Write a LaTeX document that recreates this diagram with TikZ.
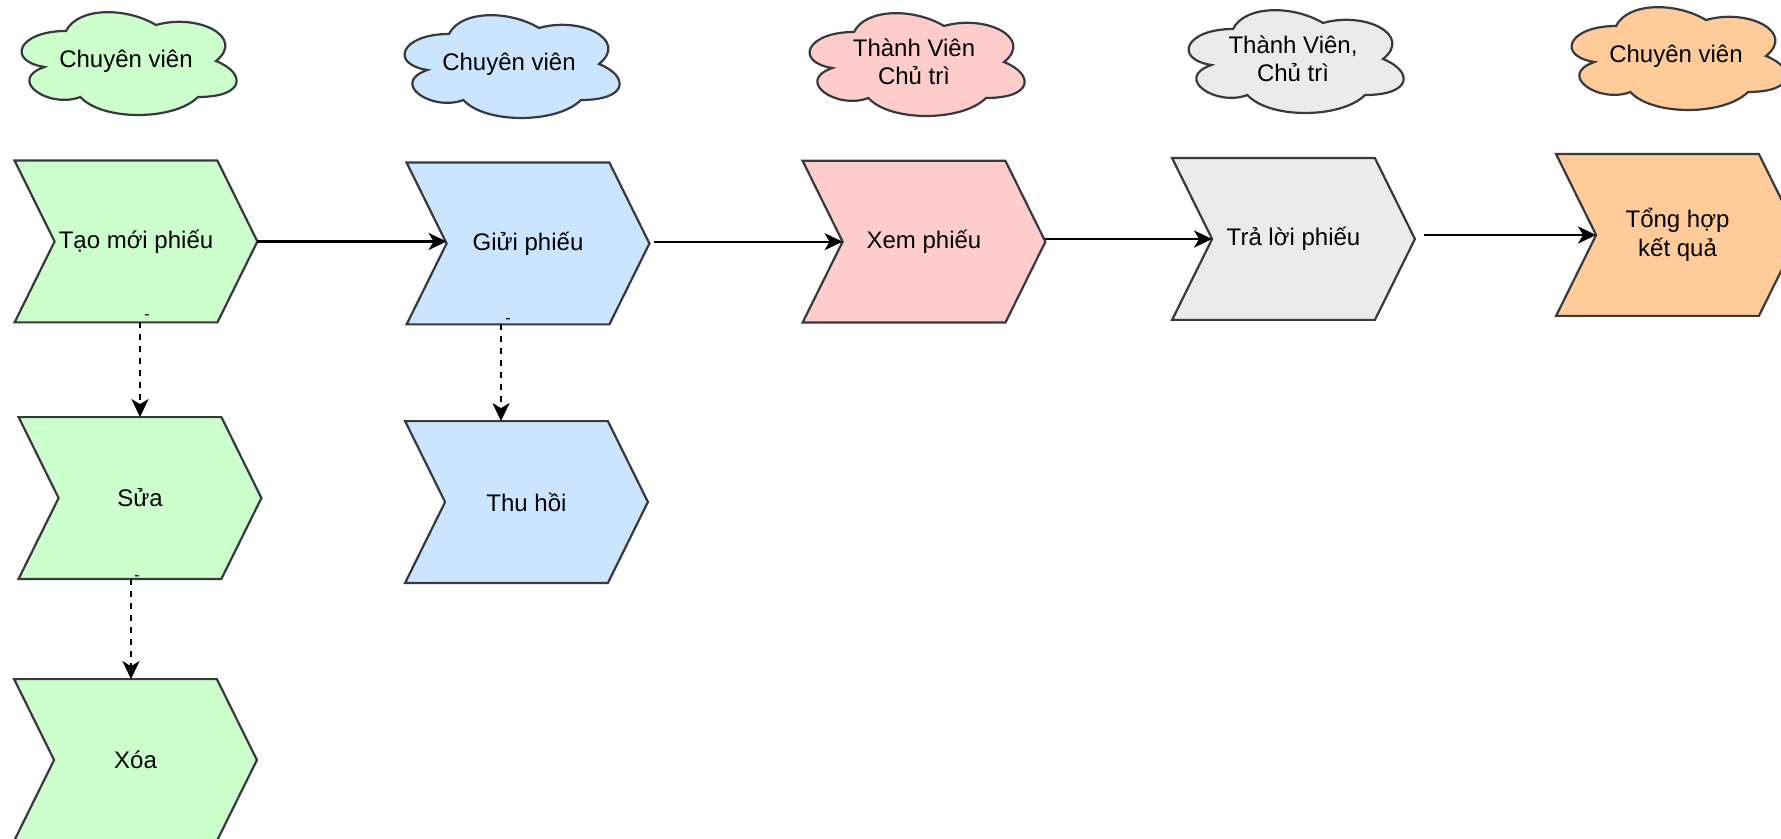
\documentclass[tikz,border=0pt]{standalone}
\usepackage{fontspec}
\setmainfont{Liberation Sans}
\usetikzlibrary{arrows.meta}
\pgfdeclarelayer{background}
\pgfsetlayers{background,main}
\definecolor{cgreen}{HTML}{CCFFCC}
\definecolor{cblue}{HTML}{CCE5FF}
\definecolor{cpink}{HTML}{FFCCCC}
\definecolor{cgray}{HTML}{EBEBEB}
\definecolor{corange}{HTML}{FFCC99}
\definecolor{edgec}{HTML}{36393D}
\tikzset{
  chevbox/.style={minimum width=121pt, minimum height=80.5pt, inner sep=0pt, align=center, font=\fontsize{12}{14.5}\selectfont},
  cloudbox/.style={inner sep=0pt, align=center, font=\fontsize{12}{13.8}\selectfont},
  shapeline/.style={draw=edgec, line width=1.1pt, line join=miter},
  flow/.style={line width=1.1pt, -{Stealth[length=9pt,width=8.5pt,inset=2.5pt]}},
  dashflow/.style={flow, dash pattern=on 3pt off 3pt},
  minus/.style={inner sep=0pt, font=\fontsize{8}{9}\selectfont},
}
\newcommand\chevfill[2]{%
  \begin{pgfonlayer}{background}
  \path[shapeline, fill=#2] (#1.north west) -- ([xshift=-20pt]#1.north east) -- (#1.east)
    -- ([xshift=-20pt]#1.south east) -- (#1.south west) -- ([xshift=20pt]#1.west) -- cycle;
  \end{pgfonlayer}}
\newcommand\cloudfill[2]{%
  \begin{pgfonlayer}{background}
  \path[shapeline, fill=#2, shift={(#1.center)}, x=120pt, y=-60pt, shift={(-0.5,-0.5)}]
    (0.25,0.25) .. controls (0.05,0.25) and (0,0.5) .. (0.16,0.55)
    .. controls (0,0.66) and (0.18,0.9) .. (0.31,0.8)
    .. controls (0.4,1) and (0.7,1) .. (0.8,0.8)
    .. controls (1,0.8) and (1,0.6) .. (0.875,0.5)
    .. controls (1,0.3) and (0.8,0.1) .. (0.625,0.2)
    .. controls (0.5,0.05) and (0.3,0.05) .. (0.25,0.25) -- cycle;
  \end{pgfonlayer}}
\begin{document}
\begin{tikzpicture}[x=0.5pt,y=-0.5pt]
\useasboundingbox (0,0) rectangle (1781,839);
% clouds
\node[cloudbox] (cl1) at (126,61) {Chuyên viên}; \cloudfill{cl1}{cgreen}
\node[cloudbox] (cl2) at (509,64) {Chuyên viên}; \cloudfill{cl2}{cblue}
\node[cloudbox] (cl3) at (914,62) {Thành Viên\\Chủ trì}; \cloudfill{cl3}{cpink}
\node[cloudbox] (cl4) at (1293,59) {Thành Viên,\\Chủ trì}; \cloudfill{cl4}{cgray}
\node[cloudbox] (cl5) at (1676,56) {Chuyên viên}; \cloudfill{cl5}{corange}
% chevrons
\node[chevbox] (tao) at (136,241.5) {Tạo mới phiếu}; \chevfill{tao}{cgreen}
\node[chevbox] (gui) at (528,243.5) {Giửi phiếu}; \chevfill{gui}{cblue}
\node[chevbox] (xem) at (924,241.7) {Xem phiếu}; \chevfill{xem}{cpink}
\node[chevbox] (tra) at (1293.5,239) {Trả lời phiếu}; \chevfill{tra}{cgray}
\node[chevbox] (tong) at (1677.5,235) {Tổng hợp\\kết quả}; \chevfill{tong}{corange}
\node[chevbox] (sua) at (140,498) {Sửa}; \chevfill{sua}{cgreen}
\node[chevbox] (thu) at (526.5,502) {Thu hồi}; \chevfill{thu}{cblue}
\node[chevbox] (xoa) at (135.5,760) {Xóa}; \chevfill{xoa}{cgreen}
% solid connectors
\draw[flow] (tao.east) -- ([xshift=20pt]gui.west |- tao.east);
\draw[flow] ([xshift=2.5pt]gui.east |- xem.west) -- ([xshift=20pt]xem.west);
\draw[flow] (xem.east |- tra.west) -- ([xshift=20pt]tra.west);
\draw[flow] ([xshift=4.5pt]tra.east |- tong.west) -- ([xshift=20pt]tong.west);
% dashed connectors
\draw[dashflow] (sua.north |- tao.south) -- (sua.north)
  node[minus, at start, xshift=3.5pt, yshift=2.5pt] (m1) {-};
\draw[dashflow] ([xshift=-2.25pt]xoa.north |- sua.south) -- ([xshift=-2.25pt]xoa.north)
  node[minus, at start, xshift=3pt, yshift=0.5pt] (m2) {-};
\draw[dashflow] ([xshift=-12.75pt]thu.north |- gui.south) -- ([xshift=-12.75pt]thu.north)
  node[minus, at start, xshift=3.5pt, yshift=1.5pt] (m3) {-};
\end{tikzpicture}
\end{document}
